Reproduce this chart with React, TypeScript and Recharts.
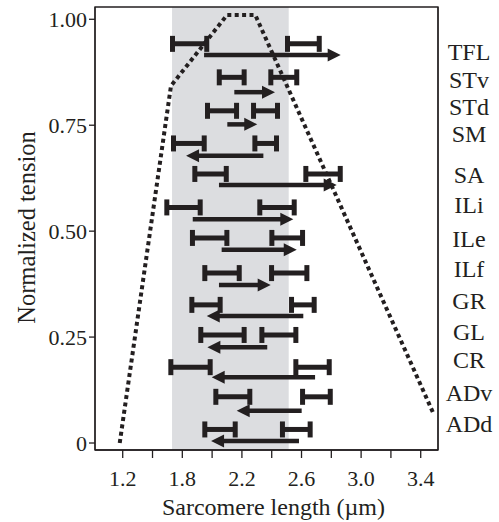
import React from 'react';
import {
  ComposedChart,
  Line,
  XAxis,
  YAxis,
  ReferenceArea,
  ReferenceLine,
} from 'recharts';

const INK = '#231f20';

// muscle rows, top to bottom
const MUSCLES = ['TFL', 'STv', 'STd', 'SM', 'SA', 'ILi', 'ILe', 'ILf', 'GR', 'GL', 'CR', 'ADv', 'ADd'];
const LABEL_Y = [0.924, 0.858, 0.795, 0.731, 0.633, 0.562, 0.483, 0.412, 0.335, 0.263, 0.198, 0.119, 0.045];

// sarcomere length ranges (two positions per muscle) drawn as H bars
const BAR_Y = [0.942, 0.863, 0.784, 0.707, 0.635, 0.556, 0.484, 0.401, 0.326, 0.255, 0.179, 0.109, 0.032];
const RANGE1_LO = [1.734, 2.048, 1.969, 1.741, 1.884, 1.696, 1.868, 1.951, 1.864, 1.924, 1.723, 2.025, 1.951];
const RANGE1_HI = [1.964, 2.215, 2.164, 1.947, 2.095, 1.92, 2.099, 2.182, 2.054, 2.215, 1.987, 2.253, 2.155];
const RANGE2_LO = [2.506, 2.394, 2.278, 2.287, 2.629, 2.32, 2.401, 2.399, 2.533, 2.334, 2.562, 2.607, 2.472];
const RANGE2_HI = [2.719, 2.568, 2.439, 2.432, 2.86, 2.551, 2.607, 2.636, 2.685, 2.562, 2.786, 2.793, 2.658];

// arrows showing the change
const ARROW_Y = [0.916, 0.828, 0.752, 0.678, 0.609, 0.528, 0.456, 0.373, 0.3, 0.226, 0.155, 0.076, 0.005];
const ARROW_FROM = [1.946, 2.149, 2.102, 2.344, 2.046, 1.87, 2.064, 2.046, 2.612, 2.37, 2.691, 2.601, 2.583];
const ARROW_TO = [2.863, 2.422, 2.303, 1.825, 2.836, 2.545, 2.568, 2.393, 1.964, 1.968, 1.997, 2.165, 1.993];

// length-tension curve
const CURVE_SL = [1.38, 1.724, 2.1, 2.29, 3.485];
const CURVE_T = [0, 0.843, 1.01, 1.01, 0.07];

// optimal range (shaded)
const OPTIMAL = [1.731, 2.514];

const X_DOMAIN = [1.214, 3.516];
const Y_DOMAIN = [-0.0165, 1.029];
const X_TICKS = [1.4, 1.6, 1.8, 2.0, 2.2, 2.4, 2.6, 2.8, 3.0, 3.2, 3.4];
const X_TICK_LABELS = ['1.2', '', '1.8', '', '2.2', '', '2.6', '', '3.0', '', '3.4'];
const Y_TICKS = [0, 0.25, 0.5, 0.75, 1];

const curve = CURVE_SL.map((x, i) => ({ x, y: CURVE_T[i] }));

const HBar = (p: any) => (
  <g>
    <line x1={p.x1} y1={p.y1} x2={p.x2} y2={p.y2} stroke={INK} strokeWidth={5} />
    <line x1={p.x1} y1={p.y1 - 8} x2={p.x1} y2={p.y1 + 8} stroke={INK} strokeWidth={5} />
    <line x1={p.x2} y1={p.y2 - 8} x2={p.x2} y2={p.y2 + 8} stroke={INK} strokeWidth={5} />
  </g>
);

const Arrow = (p: any) => {
  const dir = p.x2 > p.x1 ? 1 : -1;
  const base = p.x2 - dir * 13;
  return (
    <g>
      <line x1={p.x1} y1={p.y1} x2={base + dir * 1} y2={p.y2} stroke={INK} strokeWidth={4.5} />
      <polygon points={`${p.x2},${p.y2} ${base},${p.y2 - 6.5} ${base},${p.y2 + 6.5}`} fill={INK} />
    </g>
  );
};

const MuscleTick = (p: any) => (
  <text x={469} y={p.y} dy="0.35em" textAnchor="middle" fill={INK} fontSize={24}>
    {MUSCLES[p.index]}
  </text>
);

const XTitle = (p: any) => {
  const vb = p.viewBox;
  return (
    <text x={vb.x + vb.width / 2 + 7} y={vb.y + 65} textAnchor="middle" fill={INK} fontSize={24}>
      Sarcomere length (µm)
    </text>
  );
};

const YTitle = (p: any) => {
  const vb = p.viewBox;
  const cx = vb.x + 35;
  const cy = vb.y + vb.height / 2 - 1;
  return (
    <text x={cx} y={cy} transform={`rotate(-90, ${cx}, ${cy})`} textAnchor="middle" fill={INK} fontSize={24.5}>
      Normalized tension
    </text>
  );
};

export default function App() {
  return (
    <div style={{ position: 'absolute', left: 0, top: 0, fontFamily: '"Liberation Serif", "Times New Roman", serif' }}>
      <ComposedChart width={499} height={522} margin={{ top: 7, right: 0, bottom: 0, left: 0 }}>
        <XAxis
          type="number"
          dataKey="x"
          domain={X_DOMAIN}
          ticks={X_TICKS}
          interval={0}
          allowDataOverflow
          height={72}
          tickSize={8}
          tickMargin={12}
          tickFormatter={(v: number, i: number) => X_TICK_LABELS[i]}
          tick={{ fill: INK, fontSize: 22 }}
          stroke={INK}
          strokeWidth={1.3}
          label={<XTitle />}
        />
        <YAxis
          yAxisId="t"
          type="number"
          domain={Y_DOMAIN}
          ticks={Y_TICKS}
          interval={0}
          allowDataOverflow
          width={95}
          tickSize={6}
          tickMargin={2}
          tickFormatter={(v: number) => (v === 0 ? '0' : v.toFixed(2))}
          tick={{ fill: INK, fontSize: 22 }}
          stroke={INK}
          strokeWidth={1.3}
          label={<YTitle />}
        />
        <YAxis
          yAxisId="names"
          orientation="right"
          type="number"
          domain={Y_DOMAIN}
          ticks={LABEL_Y}
          interval={0}
          allowDataOverflow
          width={61}
          tickLine={false}
          tick={<MuscleTick />}
          stroke={INK}
          strokeWidth={1.3}
        />
        <ReferenceArea
          yAxisId="t"
          x1={OPTIMAL[0]}
          x2={OPTIMAL[1]}
          y1={Y_DOMAIN[0]}
          y2={Y_DOMAIN[1]}
          fill="#dcdde0"
          fillOpacity={1}
          stroke="none"
          ifOverflow="visible"
        />
        <ReferenceArea
          yAxisId="t"
          x1={X_DOMAIN[0]}
          x2={X_DOMAIN[1]}
          y1={Y_DOMAIN[0]}
          y2={Y_DOMAIN[1]}
          fill="none"
          stroke={INK}
          strokeWidth={1.3}
          ifOverflow="visible"
        />
        <Line
          yAxisId="t"
          data={curve}
          dataKey="y"
          type="linear"
          stroke={INK}
          strokeWidth={4}
          strokeDasharray="4 3.4"
          dot={false}
          activeDot={false}
          isAnimationActive={false}
        />
        {MUSCLES.map((m, i) => (
          <ReferenceLine
            key={`a${m}`}
            yAxisId="t"
            segment={[{ x: RANGE1_LO[i], y: BAR_Y[i] }, { x: RANGE1_HI[i], y: BAR_Y[i] }]}
            shape={HBar}
            ifOverflow="visible"
          />
        ))}
        {MUSCLES.map((m, i) => (
          <ReferenceLine
            key={`b${m}`}
            yAxisId="t"
            segment={[{ x: RANGE2_LO[i], y: BAR_Y[i] }, { x: RANGE2_HI[i], y: BAR_Y[i] }]}
            shape={HBar}
            ifOverflow="visible"
          />
        ))}
        {MUSCLES.map((m, i) => (
          <ReferenceLine
            key={`c${m}`}
            yAxisId="t"
            segment={[{ x: ARROW_FROM[i], y: ARROW_Y[i] }, { x: ARROW_TO[i], y: ARROW_Y[i] }]}
            shape={Arrow}
            ifOverflow="visible"
          />
        ))}
      </ComposedChart>
    </div>
  );
}
